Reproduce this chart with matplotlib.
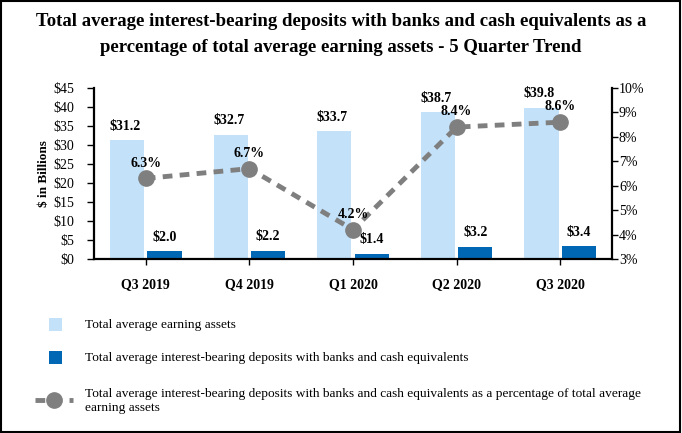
import matplotlib
matplotlib.use('Agg')
import matplotlib.pyplot as plt
from matplotlib.patches import Rectangle
from matplotlib.lines import Line2D
from matplotlib import ticker

quarters = ['Q3 2019', 'Q4 2019', 'Q1 2020', 'Q2 2020', 'Q3 2020']
earning_assets = [31.2, 32.7, 33.7, 38.7, 39.8]
deposits = [2.0, 2.2, 1.4, 3.2, 3.4]
pct = [6.3, 6.7, 4.2, 8.4, 8.6]

light = '#C3E2FA'
dark = '#0067B4'
grey = '#7F7F7F'

plt.rcParams['font.family'] = ['Liberation Serif', 'DejaVu Serif']

W, H = 682, 433
fig = plt.figure(figsize=(W / 100, H / 100), dpi=100)

def px(x, y):
    return x / W, 1 - y / H

# frame around whole picture
fig.patches.append(Rectangle((0.002, 0.003), 0.995, 0.994, transform=fig.transFigure,
                             fill=False, edgecolor='black', linewidth=1.5))

fig.text(0.5, 1 - 22 / H, 'Total average interest-bearing deposits with banks and cash equivalents as a',
         ha='center', va='center', fontsize=13.5, fontweight='bold')
fig.text(0.5, 1 - 48 / H, 'percentage of total average earning assets - 5 Quarter Trend',
         ha='center', va='center', fontsize=13.5, fontweight='bold')

ax = fig.add_axes([94 / W, 1 - 259 / H, 518 / W, 171 / H])
x = list(range(len(quarters)))
bw = 0.33
ax.bar([i - 0.18 for i in x], earning_assets, bw, color=light)
ax.bar([i + 0.18 for i in x], deposits, bw, color=dark)
for i in x:
    ax.annotate(f'${earning_assets[i]:.1f}', (i - 0.2, earning_assets[i]), xytext=(0, 10),
                textcoords='offset points', ha='center', va='center', fontsize=10, fontweight='bold')
    ax.annotate(f'${deposits[i]:.1f}', (i + 0.18, deposits[i]), xytext=(0, 10),
                textcoords='offset points', ha='center', va='center', fontsize=10, fontweight='bold')

ax.set_xlim(-0.5, 4.5)
ax.set_ylim(0, 45)
ax.yaxis.set_major_locator(ticker.MultipleLocator(5))
ax.yaxis.set_major_formatter(ticker.FuncFormatter(lambda v, p: f'${v:.0f}'))
ax.set_xticks(x)
ax.set_xticklabels(quarters, fontweight='bold', fontsize=10)
ax.tick_params(axis='x', pad=10, length=4, width=1)
ax.tick_params(axis='y', labelsize=10, length=5, width=1, pad=9, colors='black')
ax.set_ylabel('$ in Billions', fontweight='bold', fontsize=9.5, labelpad=3)
for s in ['left', 'bottom']:
    ax.spines[s].set_linewidth(1.6)
ax.spines['top'].set_visible(False)
ax.spines['right'].set_visible(False)

ax2 = ax.twinx()
ax2.plot(x, pct, color=grey, linestyle=(0, (2, 1.5)), linewidth=3.5,
         marker='o', markersize=11)
for i in x:
    ax2.annotate(f'{pct[i]:.1f}%', (i, pct[i]), xytext=(0, 11), textcoords='offset points',
                 ha='center', va='center', fontsize=10, fontweight='bold')
ax2.set_ylim(3, 10)
ax2.yaxis.set_major_locator(ticker.MultipleLocator(1))
ax2.yaxis.set_major_formatter(ticker.FuncFormatter(lambda v, p: f'{v:.0f}%'))
ax2.tick_params(axis='y', labelsize=10, length=4, width=1, pad=1)
ax2.spines['right'].set_linewidth(1.6)
ax2.spines['top'].set_visible(False)
ax2.spines['left'].set_visible(False)
ax2.spines['bottom'].set_visible(False)

# legend
for y, c in [(325, light), (358, dark)]:
    x0, y0 = px(49, y + 6)
    fig.patches.append(Rectangle((x0, y0), 13 / W, 13 / H, transform=fig.transFigure,
                                 facecolor=c, edgecolor='none'))
fig.text(*px(85, 325), 'Total average earning assets', va='center', fontsize=9.6)
fig.text(*px(85, 358), 'Total average interest-bearing deposits with banks and cash equivalents',
         va='center', fontsize=9.6)
lx0, ly = px(35, 400)
lx1, _ = px(73, 400)
fig.lines.append(Line2D([lx0, lx1], [ly, ly], transform=fig.transFigure, color=grey,
                        linestyle=(0, (2, 1.5)), linewidth=3.5))
fig.lines.append(Line2D([(lx0 + lx1) / 2], [ly], transform=fig.transFigure, color=grey,
                        marker='o', markersize=11, linestyle='none'))
fig.text(*px(85, 401), 'Total average interest-bearing deposits with banks and cash equivalents as a percentage of total average\nearning assets',
         va='center', fontsize=9.6, linespacing=1.2)

fig.savefig('out.png', dpi=100)
